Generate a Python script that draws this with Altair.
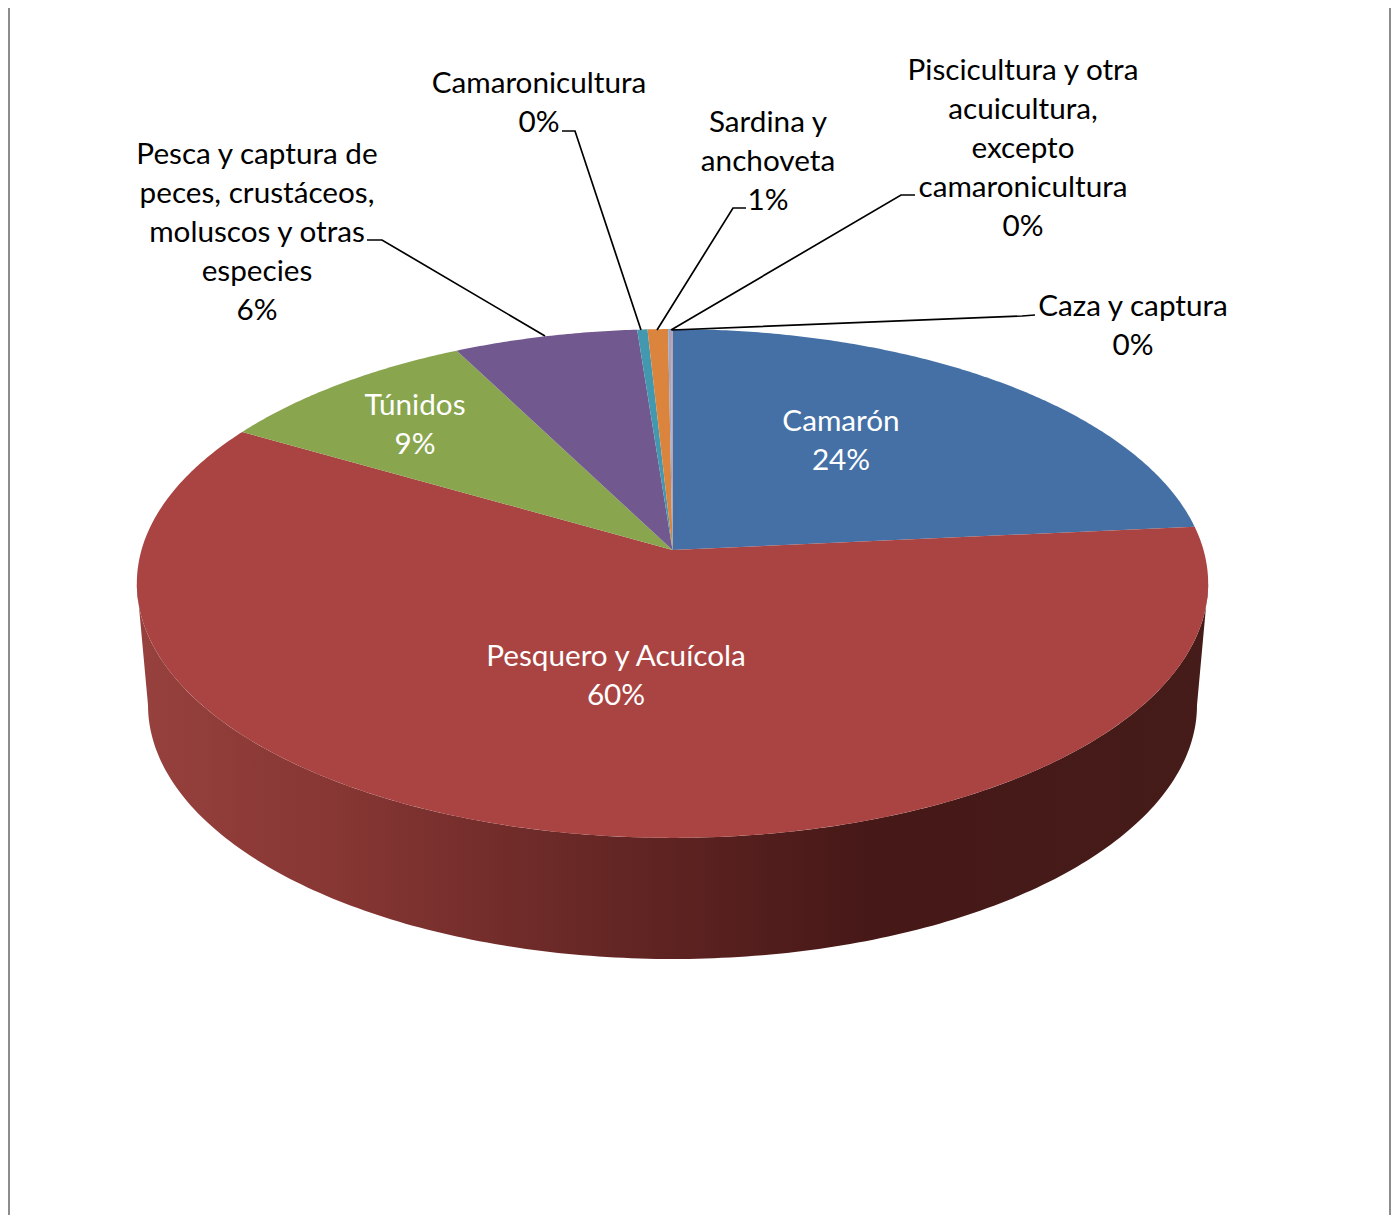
import math
import altair as alt
import pandas as pd

# ---- data ----
categories = ["Camarón", "Pesquero y Acuícola", "Túnidos",
              "Pesca y captura de peces, crustáceos, moluscos y otras especies",
              "Camaronicultura", "Sardina y anchoveta",
              "Piscicultura y otra acuicultura, excepto camaronicultura",
              "Caza y captura"]
shares = [23.5, 59.9, 9.1, 6.3, 0.35, 0.7, 0.1, 0.05]
colors = ["#4570A6", "#A94442", "#89A54E", "#71588F", "#4198AF", "#DB843D", "#93A9CF", "#D19392"]

label_lines = [["Camarón"], ["Pesquero y Acuícola"], ["Túnidos"],
               ["Pesca y captura de", "peces, crustáceos,", "moluscos y otras", "especies"],
               ["Camaronicultura"], ["Sardina y", "anchoveta"],
               ["Piscicultura y otra", "acuicultura,", "excepto", "camaronicultura"],
               ["Caza y captura"]]

# ---- layout (page pixels) ----
W, H = 1383, 1207
X0, Y0 = 8, 8
CX, CY = 672.5, 550
A, B, K = 531, 250, 0.1316
FONT = "Lato"
FS = 29.7
LH = 39
label_anchor = [(841, 421.5), (616, 656.5), (415, 405.5), (257, 154.5), (539, 83.5), (768, 122.5), (1023, 70.5), (1133, 306.5)]
label_color = ["white", "white", "white", "black", "black", "black", "black", "black"]
leaders = [
    [(562, 131), (575, 131), (641, 330)],
    [(746, 208), (733, 208), (657, 330)],
    [(915, 195), (901, 195), (671, 330)],
    [(1035, 315), (1022, 316), (672, 330)],
    [(367, 240), (382, 240), (545, 336)],
]

x_scale = alt.Scale(domain=[X0, X0 + W], range=[0, W], nice=False, zero=False)
y_scale = alt.Scale(domain=[Y0, Y0 + H], range=[0, H], nice=False, zero=False)


def top_point(deg):
    """Perspective projection of a point on the pie's rim, clockwise from 12 o'clock."""
    t = math.radians(deg)
    rx, ry = math.sin(t), math.cos(t)
    d = 1 + K * ry
    return CX + A * rx / d, CY - B * ry / d


def polygon(points, fill):
    df = pd.DataFrame({"x": [p[0] for p in points], "y": [p[1] for p in points], "i": range(len(points))})
    return alt.Chart(df).mark_line(interpolate="linear", fill=fill, strokeWidth=0).encode(
        x=alt.X("x:Q", scale=x_scale, axis=None),
        y=alt.Y("y:Q", scale=y_scale, axis=None),
        order="i:Q",
    )


layers = []

# outer frame
for fx in (9, 1390):
    df = pd.DataFrame({"x": [fx, fx], "y": [8, 1215]})
    layers.append(alt.Chart(df).mark_line(color="#8c8c8c", strokeWidth=2).encode(
        x=alt.X("x:Q", scale=x_scale, axis=None), y=alt.Y("y:Q", scale=y_scale, axis=None), order="y:Q"))

# pie wall
LOW_CX, LOW_CY, LOW_A, LOW_B = 672.5, 705, 524.5, 254
wall = []
tilt = math.degrees(math.acos(-K))  # angle of the rim's widest point
n = 200
for j in range(n + 1):
    wall.append(top_point(tilt + (360 - 2 * tilt) * (j / n)))
for j in range(n + 1):
    t = math.pi * j / n
    wall.append((LOW_CX - LOW_A * math.cos(t), LOW_CY + LOW_B * math.sin(t)))
wall_gradient = alt.Gradient(
    gradient="linear", x1=0, x2=1, y1=0, y2=0,
    stops=[alt.GradientStop(offset=0, color="#97413E"),
           alt.GradientStop(offset=0.19, color="#863633"),
           alt.GradientStop(offset=0.43, color="#662725"),
           alt.GradientStop(offset=0.68, color="#461817"),
           alt.GradientStop(offset=1, color="#451C19")])
layers.append(polygon(wall, wall_gradient))

# top face wedges
start = 0.0
for share, col in zip(shares, colors):
    sweep = share / sum(shares) * 360
    steps = max(2, int(sweep * 2))
    pts = [(CX, CY)] + [top_point(start + sweep * s / steps) for s in range(steps + 1)]
    layers.append(polygon(pts, col))
    start += sweep

# leader lines
for path in leaders:
    df = pd.DataFrame({"x": [p[0] for p in path], "y": [p[1] for p in path], "i": range(len(path))})
    layers.append(alt.Chart(df).mark_line(color="black", strokeWidth=1.7).encode(
        x=alt.X("x:Q", scale=x_scale, axis=None), y=alt.Y("y:Q", scale=y_scale, axis=None), order="i:Q"))

# labels
rows = []
for lines, share, (ax, ay), col in zip(label_lines, shares, label_anchor, label_color):
    for i, line in enumerate(lines + [f"{round(share)}%"]):
        rows.append({"t": line, "x": ax, "y": ay + i * LH, "c": col})
layers.append(alt.Chart(pd.DataFrame(rows)).mark_text(font=FONT, fontSize=FS, align="center", baseline="middle").encode(
    x=alt.X("x:Q", scale=x_scale, axis=None),
    y=alt.Y("y:Q", scale=y_scale, axis=None),
    text="t:N",
    color=alt.Color("c:N", scale=None),
))

chart = alt.layer(*layers).properties(
    width=W, height=H, padding=0, autosize=alt.AutoSizeParams(type="none"),
    background="white",
).configure_view(stroke=None)

chart.save("out.html", embed_options={"renderer": "svg", "actions": False})
